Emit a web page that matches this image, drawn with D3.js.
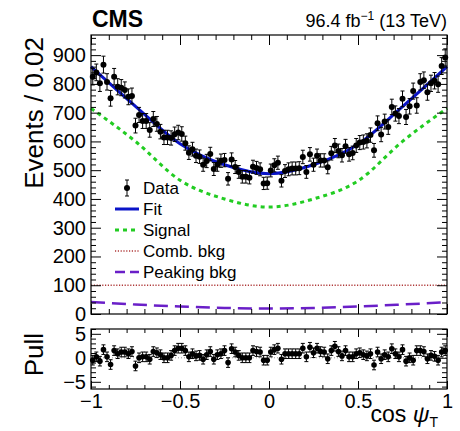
<!DOCTYPE html>
<html>
<head>
<meta charset="utf-8">
<script src="https://cdn.jsdelivr.net/npm/d3@7"></script>
<style>
  html, body { margin: 0; padding: 0; background: #fff; }
  svg { display: block; font-family: "Liberation Sans", Arial, sans-serif; }
</style>
</head>
<body>
<svg id="chart" width="460" height="431"></svg>
<script>
// Bin centres of cos(psi_T), 100 bins of width 0.02
const binCenters = d3.range(100).map(i => -0.99 + 0.02 * i);

// Event counts per bin
const counts = [
  825, 840, 802, 867, 807, 750, 825, 790, 787, 779,
  755, 758, 655, 692, 671, 671, 640, 678, 661, 634,
  614, 614, 612, 625, 631, 626, 594, 561, 573, 550,
  547, 519, 532, 556, 504, 519, 533, 535, 470, 537,
  511, 494, 477, 477, 474, 512, 508, 503, 454, 455,
  499, 517, 526, 463, 497, 503, 506, 506, 507, 546,
  494, 555, 519, 550, 534, 534, 510, 559, 586, 567,
  552, 583, 555, 560, 586, 596, 598, 602, 622, 569,
  663, 624, 669, 650, 720, 697, 688, 748, 685, 722,
  775, 725, 807, 813, 771, 802, 811, 799, 862, 892
];

// Pull per bin
const pulls = [
  -0.5, 0.2, -0.7, 1.7, 0.2, -1.4, 1.5, 0.85, 1.2, 1.2,
  0.85, 1.3, -1.7, 0.0, 0.2, 0.2, -0.3, 1.3, 1.05, 0.65,
  0.0, 0.0, 0.5, 1.5, 2.0, 2.0, 1.5, 0.2, 0.85, 0.4,
  0.5, -0.3, 0.65, 1.3, -0.3, 0.65, 0.85, 1.5, -1.0, 1.9,
  1.2, 0.5, 0.0, 0.0, 0.0, 1.5, 1.3, 1.2, -0.5, -0.5,
  1.2, 1.7, 2.0, -0.3, 0.85, 0.85, 0.85, 0.85, 0.85, 2.0,
  0.2, 2.2, 1.05, 2.0, 1.3, 1.2, -0.2, 1.5, 2.4, 1.3,
  0.4, 1.5, 0.2, 0.2, 0.85, 1.05, 0.65, 0.4, 0.85, -1.5,
  1.2, -0.2, 0.65, 0.2, 1.9, 0.85, 0.2, 1.7, -0.7, 0.0,
  -0.5, 1.5, 1.5, 1.3, -0.2, 0.5, 0.3, -0.5, 1.2, 1.5
];

// Fit components sampled along cos(psi_T)
const curveX      = [-1, -0.75, -0.5, -0.25, 0, 0.25, 0.5, 0.75, 1];
const fitTotal    = [860, 722, 592, 519, 488, 519, 590, 721, 860];
const fitSignal   = [715, 600, 465, 400, 372, 400, 463, 600, 715];
const fitComb     = [100, 100, 100, 100, 100, 100, 100, 100, 100];
const fitPeaking  = [42, 33, 26, 21, 19, 21, 26, 33, 41];

// Axis ticks
const xMajor = [-1, -0.5, 0, 0.5, 1];
const xTickLabels = ["\u22121", "\u22120.5", "0", "0.5", "1"];
const yMajor = [0, 100, 200, 300, 400, 500, 600, 700, 800, 900];
const pullMajor = [-5, 0, 5];
const pullTickLabels = ["\u22125", "0", "5"];

const legendLabels = ["Data", "Fit", "Signal", "Comb. bkg", "Peaking bkg"];

const svg = d3.select("#chart");
const L = 91, R = 447;
const mainTop = 35, mainBot = 314;
const pullTop = 329, pullBot = 389;

const x = d3.scaleLinear().domain([-1, 1]).range([L, R]);
const y = d3.scaleLinear().domain([0, 970]).range([mainBot, mainTop]);
const yp = d3.scaleLinear().domain([-6.5, 6]).range([pullBot, pullTop]);

const xMinor = d3.range(-1, 1.0001, 0.1).map(v => +v.toFixed(2)).filter(v => !xMajor.includes(v));
const yMinor = d3.range(0, 961, 20).filter(v => v % 100 !== 0);
const pullMinor = d3.range(-6, 6.01, 1).filter(v => v % 5 !== 0);

function styleAxis(g) {
  g.select(".domain").remove();
  g.selectAll("line").attr("stroke", "#000").attr("stroke-width", 1);
  g.selectAll("text").attr("fill", "#000");
}

function frame(top, bot, yScale, major, minor, majorLen, minorLen, labels, withXLabels) {
  // x ticks, bottom and top
  svg.append("g").attr("transform", `translate(0,${bot})`)
    .call(d3.axisBottom(x).tickValues(xMajor).tickSizeInner(-majorLen).tickSizeOuter(0)
      .tickPadding(withXLabels ? 5 : 0)
      .tickFormat(withXLabels ? (d, i) => xTickLabels[i] : ""))
    .call(styleAxis)
    .call(g => g.selectAll("text").attr("font-size", 20));
  svg.append("g").attr("transform", `translate(0,${bot})`)
    .call(d3.axisBottom(x).tickValues(xMinor).tickSizeInner(-minorLen).tickSizeOuter(0).tickFormat(""))
    .call(styleAxis);
  svg.append("g").attr("transform", `translate(0,${top})`)
    .call(d3.axisTop(x).tickValues(xMajor).tickSizeInner(-majorLen).tickSizeOuter(0).tickFormat(""))
    .call(styleAxis);
  svg.append("g").attr("transform", `translate(0,${top})`)
    .call(d3.axisTop(x).tickValues(xMinor).tickSizeInner(-minorLen).tickSizeOuter(0).tickFormat(""))
    .call(styleAxis);
  // y ticks, left and right
  svg.append("g").attr("transform", `translate(${L},0)`)
    .call(d3.axisLeft(yScale).tickValues(major).tickSizeInner(-10).tickSizeOuter(0).tickPadding(5)
      .tickFormat((d, i) => labels[i]))
    .call(styleAxis)
    .call(g => g.selectAll("text").attr("font-size", 20));
  svg.append("g").attr("transform", `translate(${L},0)`)
    .call(d3.axisLeft(yScale).tickValues(minor).tickSizeInner(-5).tickSizeOuter(0).tickFormat(""))
    .call(styleAxis);
  svg.append("g").attr("transform", `translate(${R},0)`)
    .call(d3.axisRight(yScale).tickValues(major).tickSizeInner(-10).tickSizeOuter(0).tickFormat(""))
    .call(styleAxis);
  svg.append("g").attr("transform", `translate(${R},0)`)
    .call(d3.axisRight(yScale).tickValues(minor).tickSizeInner(-5).tickSizeOuter(0).tickFormat(""))
    .call(styleAxis);
  svg.append("rect").attr("x", L).attr("y", top).attr("width", R - L).attr("height", bot - top)
    .attr("fill", "none").attr("stroke", "#000").attr("stroke-width", 1.2);
}

// ---- main panel ----
const curve = (vals) => d3.line()
  .x((d, i) => x(curveX[i]))
  .y(d => y(d))
  .curve(d3.curveMonotoneX)(vals);

svg.append("path").attr("d", curve(fitComb)).attr("fill", "none")
  .attr("stroke", "#b03a3a").attr("stroke-width", 1.5).attr("stroke-dasharray", "1.2,1.6");
svg.append("path").attr("d", curve(fitPeaking)).attr("fill", "none")
  .attr("stroke", "#6a1fc8").attr("stroke-width", 2.5).attr("stroke-dasharray", "14,7");
svg.append("path").attr("d", curve(fitSignal)).attr("fill", "none")
  .attr("stroke", "#22cc22").attr("stroke-width", 3).attr("stroke-dasharray", "4,4");

// data points with Poisson error bars
const dataG = svg.append("g");
binCenters.forEach((c, i) => {
  const n = counts[i], e = Math.sqrt(n);
  const cx = x(c);
  dataG.append("line").attr("x1", cx).attr("x2", cx).attr("y1", y(n - e)).attr("y2", y(n + e))
    .attr("stroke", "#000").attr("stroke-width", 1);
  [n - e, n + e].forEach(v => dataG.append("line").attr("x1", cx - 2).attr("x2", cx + 2)
    .attr("y1", y(v)).attr("y2", y(v)).attr("stroke", "#000").attr("stroke-width", 1));
});

svg.append("path").attr("d", curve(fitTotal)).attr("fill", "none")
  .attr("stroke", "#0a14c8").attr("stroke-width", 3);

binCenters.forEach((c, i) => {
  dataG.append("circle").attr("cx", x(c)).attr("cy", y(counts[i])).attr("r", 3).attr("fill", "#000");
});
dataG.raise();

frame(mainTop, mainBot, y, yMajor, yMinor, 10, 5, yMajor.map(String), false);

// ---- pull panel ----
svg.append("line").attr("x1", L).attr("x2", R).attr("y1", yp(0)).attr("y2", yp(0))
  .attr("stroke", "#999").attr("stroke-width", 1).attr("stroke-dasharray", "1,2");
const pullG = svg.append("g");
binCenters.forEach((c, i) => {
  const p = pulls[i], cx = x(c);
  pullG.append("line").attr("x1", cx).attr("x2", cx).attr("y1", yp(p - 1)).attr("y2", yp(p + 1))
    .attr("stroke", "#000").attr("stroke-width", 1);
  [p - 1, p + 1].forEach(v => pullG.append("line").attr("x1", cx - 2).attr("x2", cx + 2)
    .attr("y1", yp(v)).attr("y2", yp(v)).attr("stroke", "#000").attr("stroke-width", 1));
  pullG.append("circle").attr("cx", cx).attr("cy", yp(p)).attr("r", 2.8).attr("fill", "#000");
});
frame(pullTop, pullBot, yp, pullMajor, pullMinor, 8, 4, pullTickLabels, true);

// ---- legend ----
const legY = [188, 209, 230, 251, 272];
const leg = svg.append("g");
legendLabels.forEach((t, i) => {
  leg.append("text").attr("x", 143).attr("y", legY[i]).attr("dy", "0.35em")
    .attr("font-size", 17).text(t);
});
leg.append("line").attr("x1", 127).attr("x2", 127).attr("y1", legY[0] - 8).attr("y2", legY[0] + 8)
  .attr("stroke", "#000");
[legY[0] - 8, legY[0] + 8].forEach(v => leg.append("line").attr("x1", 125).attr("x2", 129)
  .attr("y1", v).attr("y2", v).attr("stroke", "#000"));
leg.append("circle").attr("cx", 127).attr("cy", legY[0]).attr("r", 3).attr("fill", "#000");
leg.append("line").attr("x1", 115).attr("x2", 139).attr("y1", legY[1]).attr("y2", legY[1])
  .attr("stroke", "#0a14c8").attr("stroke-width", 3);
leg.append("line").attr("x1", 115).attr("x2", 139).attr("y1", legY[2]).attr("y2", legY[2])
  .attr("stroke", "#22cc22").attr("stroke-width", 3).attr("stroke-dasharray", "4,4");
leg.append("line").attr("x1", 115).attr("x2", 139).attr("y1", legY[3]).attr("y2", legY[3])
  .attr("stroke", "#b03a3a").attr("stroke-width", 1.5).attr("stroke-dasharray", "1.2,1.6");
leg.append("line").attr("x1", 115).attr("x2", 139).attr("y1", legY[4]).attr("y2", legY[4])
  .attr("stroke", "#6a1fc8").attr("stroke-width", 2.5).attr("stroke-dasharray", "10,5");

// ---- titles ----
svg.append("text").attr("x", L + 1).attr("y", 27).attr("font-size", 23).attr("font-weight", "bold")
  .text("CMS");
const lumi = svg.append("text").attr("x", R).attr("y", 27).attr("text-anchor", "end").attr("font-size", 18);
lumi.append("tspan").text("96.4 fb");
lumi.append("tspan").attr("font-size", 12).attr("dy", -7).text("\u22121");
lumi.append("tspan").attr("dy", 7).text(" (13 TeV)");

svg.append("text").attr("transform", `translate(43,37) rotate(-90)`)
  .attr("text-anchor", "end").attr("font-size", 26).text("Events / 0.02");
svg.append("text").attr("transform", `translate(43,333) rotate(-90)`)
  .attr("text-anchor", "end").attr("font-size", 26).text("Pull");

const xt = svg.append("text").attr("x", R - 9).attr("y", 422).attr("text-anchor", "end").attr("font-size", 23);
xt.append("tspan").text("cos ");
xt.append("tspan").attr("font-style", "italic").text("\u03C8");
xt.append("tspan").attr("font-size", 14).attr("dy", 5).text("T");
</script>
</body>
</html>
